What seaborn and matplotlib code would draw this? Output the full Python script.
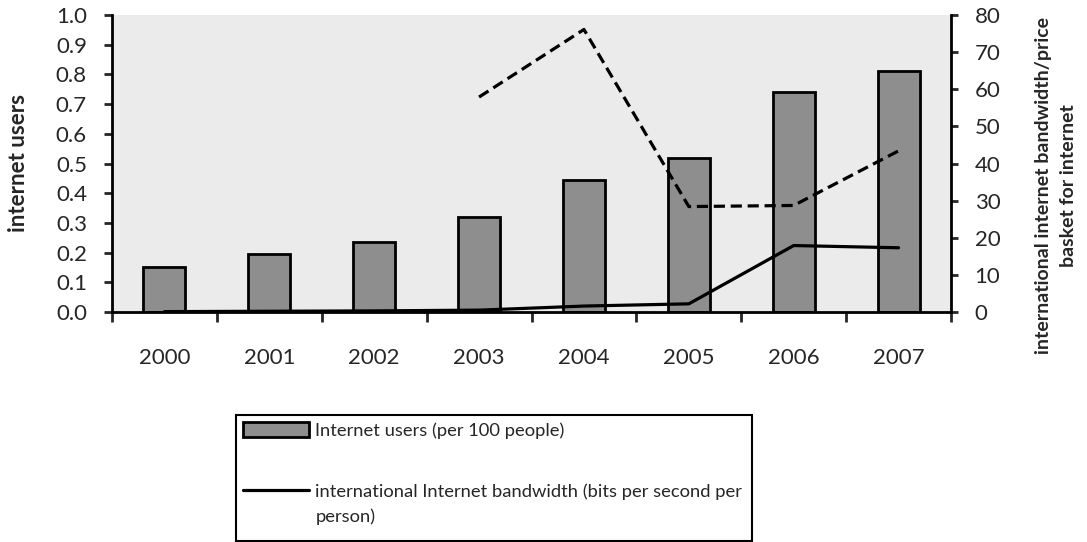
import numpy as np
import pandas as pd
import matplotlib
matplotlib.use("Agg")
import matplotlib.pyplot as plt
from matplotlib.patches import Rectangle
from matplotlib.lines import Line2D
from matplotlib.legend_handler import HandlerLine2D
import seaborn as sns

years = ["2000", "2001", "2002", "2003", "2004", "2005", "2006", "2007"]
internet_users = [0.15, 0.195, 0.235, 0.32, 0.444, 0.517, 0.74, 0.81]
bandwidth = [0.1, 0.2, 0.3, 0.5, 1.6, 2.2, 17.9, 17.3]
price_basket = [np.nan, np.nan, np.nan, 57.9, 76.1, 28.4, 28.7, 43.4]

users_label = "Internet users (per 100 people)"
bandwidth_label = "international Internet bandwidth (bits per second per\nperson)"

sns.set_style("ticks")
plt.rcParams["font.family"] = ["Lato", "DejaVu Sans"]

df = pd.DataFrame({
    "year": years,
    "pos": np.arange(len(years)),
    "users": internet_users,
    "bandwidth": bandwidth,
    "price": price_basket,
})

W, H = 1087, 542
x0, x1, y0, y1 = 112, 951, 15, 312
fig = plt.figure(figsize=(W / 100, H / 100), dpi=100)
ax = fig.add_axes([x0 / W, 1 - y1 / H, (x1 - x0) / W, (y1 - y0) / H])
ax.set_facecolor("#ebebeb")

sns.barplot(data=df, x="pos", y="users", ax=ax, color="#8e8e8e", width=0.4,
            edgecolor="black", linewidth=2, saturation=1, native_scale=True)

ax2 = ax.twinx()
sns.lineplot(data=df, x="pos", y="bandwidth", ax=ax2, color="black",
             linewidth=2.3, legend=False)
sns.lineplot(data=df, x="pos", y="price", ax=ax2, color="black",
             linewidth=2.3, linestyle=(0, (3.5, 1.8)), legend=False)

# axes limits and ticks
ax.set_xlim(-0.5, len(years) - 0.5)
ax.set_ylim(0, 1.0)
ax2.set_ylim(0, 80)
ax.set_xticks(np.arange(-0.5, len(years), 1.0))
ax.set_xticklabels([])
ax.set_xticks(np.arange(len(years)), minor=True)
ax.set_xticklabels(years, minor=True)
ax.tick_params(axis="x", which="major", length=7, width=2, direction="out")
ax.tick_params(axis="x", which="minor", length=0, pad=26, labelsize=16)
ax.set_yticks(np.arange(0, 1.01, 0.1))
ax.set_yticklabels([f"{v:.1f}" for v in np.arange(0, 1.01, 0.1)])
ax.tick_params(axis="y", length=6, width=2, labelsize=16, pad=12)
ax2.set_yticks(np.arange(0, 81, 10))
ax2.tick_params(axis="y", length=5, width=2, labelsize=16, pad=12)

ax.set_xlabel("")
ax.set_ylabel("internet users", fontsize=16, fontweight="bold")
ax.yaxis.set_label_coords((18.5 - x0) / (x1 - x0), 0.5)
ax.yaxis.label.set_va("center")
ax2.set_ylabel("international internet bandwidth/price\nbasket for internet",
               fontsize=14, fontweight="bold", linespacing=1.6)
ax2.yaxis.set_label_coords((1056 - x0) / (x1 - x0), (y1 - 186) / (y1 - y0))
ax2.yaxis.label.set_va("center")
ax2.yaxis.label.set_ha("center")

ax.spines["top"].set_visible(False)
ax.spines["right"].set_visible(False)
for side in ("top", "left", "bottom"):
    ax2.spines[side].set_visible(False)
for s in (ax.spines["left"], ax.spines["bottom"], ax2.spines["right"]):
    s.set_color("black")
    s.set_linewidth(2)
ax2.patch.set_visible(False)


class HandlerFirstLine(HandlerLine2D):
    """Line handle aligned with the first row of a two-row label."""

    def __init__(self, shift, **kw):
        super().__init__(**kw)
        self.shift = shift

    def create_artists(self, legend, orig_handle, xdescent, ydescent, width,
                       height, fontsize, trans):
        artists = super().create_artists(legend, orig_handle, xdescent, ydescent,
                                         width, height, fontsize, trans)
        for a in artists:
            if isinstance(a, Line2D):
                a.set_ydata(np.asarray(a.get_ydata()) + self.shift)
        return artists


# legend box below the plot
fig.patches.append(Rectangle((236 / W, 1 - 541 / H), (752 - 236) / W,
                             (541 - 415) / H, transform=fig.transFigure,
                             facecolor="white", edgecolor="black", linewidth=1.5))
handles = [ax.patches[0], ax2.lines[0]]
leg = fig.legend(handles, [users_label, bandwidth_label], loc="upper left",
                 bbox_to_anchor=(243 / W, 1 - 422 / H), frameon=False,
                 fontsize=13.2, handlelength=3.6, handleheight=0.85,
                 handletextpad=0.35, labelspacing=2.45,
                 borderaxespad=0, borderpad=0,
                 handler_map={ax2.lines[0]: HandlerFirstLine(shift=10)})
for t in leg.get_texts():
    t.set_linespacing(1.58)

fig.savefig("out.png", dpi=100)
